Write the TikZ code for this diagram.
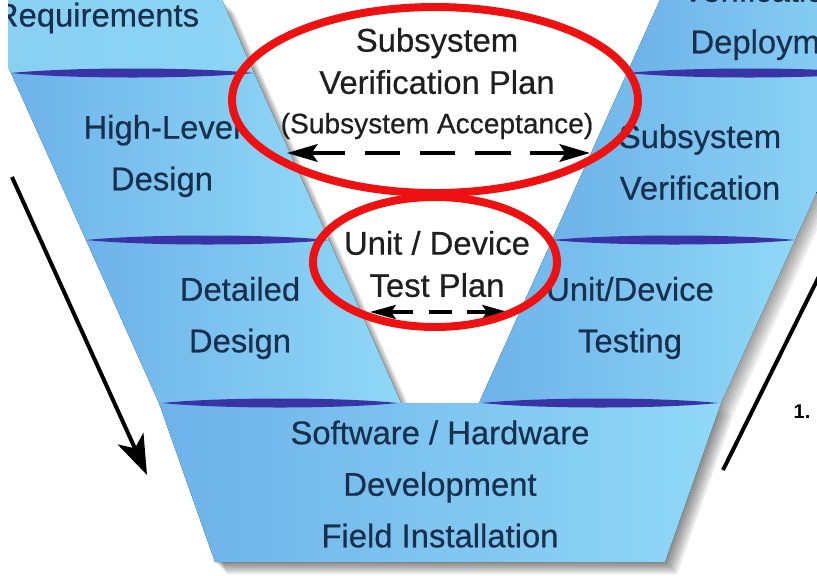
\documentclass[tikz,border=0pt]{standalone}
\usepackage{fontspec}
\setmainfont{Liberation Sans}
\newfontfamily\vfont{Liberation Sans}[FakeBold=0.5]
\usetikzlibrary{arrows.meta}

\definecolor{vblue}{HTML}{6DB2E9}
\definecolor{vcyan}{HTML}{90D8F7}
\definecolor{vtop}{HTML}{8DD5F5}
\definecolor{vline}{HTML}{3A33A6}
\definecolor{vtext}{HTML}{18304E}
\definecolor{ringred}{HTML}{EE1111}

% outlines of the three parts of the V
\newcommand{\armL}{(-22,0) -- (222,0) -- (401,403) -- (159,403) -- cycle}
\newcommand{\armR}{(660,0) -- (904,0) -- (721,403) -- (479,403) -- cycle}
\newcommand{\basepart}{(159,403) -- (721,403) -- (665,562) -- (215,562) -- cycle}
% lens shaped divider from x=#1 to x=#2 at height #3
\newcommand{\sepline}[3]{\fill[vline] (#1,#3)
  .. controls ({#1+0.25*(#2-#1)},{#3-6}) and ({#2-0.25*(#2-#1)},{#3-6}) .. (#2,#3)
  .. controls ({#2-0.25*(#2-#1)},{#3+6}) and ({#1+0.25*(#2-#1)},{#3+6}) .. cycle;}

\begin{document}
\begin{tikzpicture}[x=0.03cm, y=-0.03cm,
    >={Stealth[length=26pt, width=15pt, inset=5pt]},
    panel/.style={left color=vblue, right color=vcyan},
    vlabel/.style={text=vtext, align=center, font=\vfont\fontsize{28}{44}\selectfont},
    plantext/.style={text=black!88, align=center, font=\vfont\fontsize{28}{36}\selectfont},
    ring/.style={draw=ringred, line width=6.8pt},
    planarrow/.style={<->, line width=3.4pt, dash pattern=on 30pt off 17pt},
    flow/.style={line width=3.4pt}]
  \useasboundingbox (0,0) rectangle (817,575);
  \clip (8,0) rectangle (817,575);

  % soft drop shadows
  \foreach \s in {2,4,...,12} {
    \fill[black, opacity=0.07, shift={(\s,\s)}] \armL;
    \fill[black, opacity=0.07, shift={(\s,\s)}] \armR;
    \fill[black, opacity=0.09, shift={(\s,\s)}] \basepart;
  }

  % left arm
  \fill[left color=vtop!85!vblue, right color=vtop] (-22,0) -- (222,0) -- (254,73) -- (11,73) -- cycle;
  \fill[panel] (11,73) -- (254,73) -- (329,240) -- (86,240) -- cycle;
  \fill[panel] (86,240) -- (329,240) -- (401,403) -- (159,403) -- cycle;
  % right arm
  \fill[panel] (660,0) -- (904,0) -- (871,73) -- (627,73) -- cycle;
  \fill[panel] (627,73) -- (871,73) -- (795,240) -- (552,240) -- cycle;
  \fill[panel] (552,240) -- (795,240) -- (721,403) -- (479,403) -- cycle;
  % bottom
  \fill[panel] \basepart;

  \sepline{11}{254}{73}
  \sepline{86}{329}{240}
  \sepline{162}{398}{403}
  \sepline{627}{871}{73}
  \sepline{552}{795}{240}
  \sepline{482}{718}{403}

  \node[vlabel] (req) at (97,18) {Requirements};
  \node[vlabel] (hld) at (162,156) {High-Level\\Design};
  \node[vlabel] (dd) at (240,318) {Detailed\\Design};
  \node[vlabel] (dep) at (778,19) {Verification \&\\Deployment};
  \node[vlabel] (ssv) at (700,162) {Subsystem\\Verification};
  \node[vlabel] (udt) at (630,318) {Unit/Device\\Testing};
  \node[vlabel] (swhw) at (440,484) {Software / Hardware\\Development\\Field Installation};

  \node[plantext] (svp) at (437,61) {Subsystem\\Verification Plan};
  \node[plantext, font=\vfont\fontsize{24}{28}\selectfont] (acc) at (437,126) {(Subsystem Acceptance)};
  \node[plantext] (udp) at (437,264) {Unit / Device\\Test Plan};

  \coordinate (svL) at (287,153);
  \coordinate (svR) at (590,153);
  \draw[planarrow] (svL) -- (svR);
  \coordinate (udL) at (370,312);
  \coordinate (udR) at (508,312);
  \draw[planarrow, line width=3pt, dash pattern=on 20pt off 13pt,
    >={Stealth[length=22pt, width=12pt, inset=4pt]}] (udL) -- (udR);

  \draw[ring] (435,100) ellipse [x radius=203, y radius=93];
  \draw[ring] (435,262) ellipse [x radius=122, y radius=65];

  \coordinate (dn0) at (12,177);
  \coordinate (dn1) at (147,475);
  \draw[flow, -{Stealth[length=34pt, width=24pt, inset=9pt]}] (dn0) -- (dn1);
  \coordinate (up0) at (723,470);
  \coordinate (up1) at (840,234);
  \draw[flow] (up0) -- (up1);
  \node[font=\bfseries\fontsize{17}{19}\selectfont] (num) at (802,412) {1.};
\end{tikzpicture}
\end{document}
